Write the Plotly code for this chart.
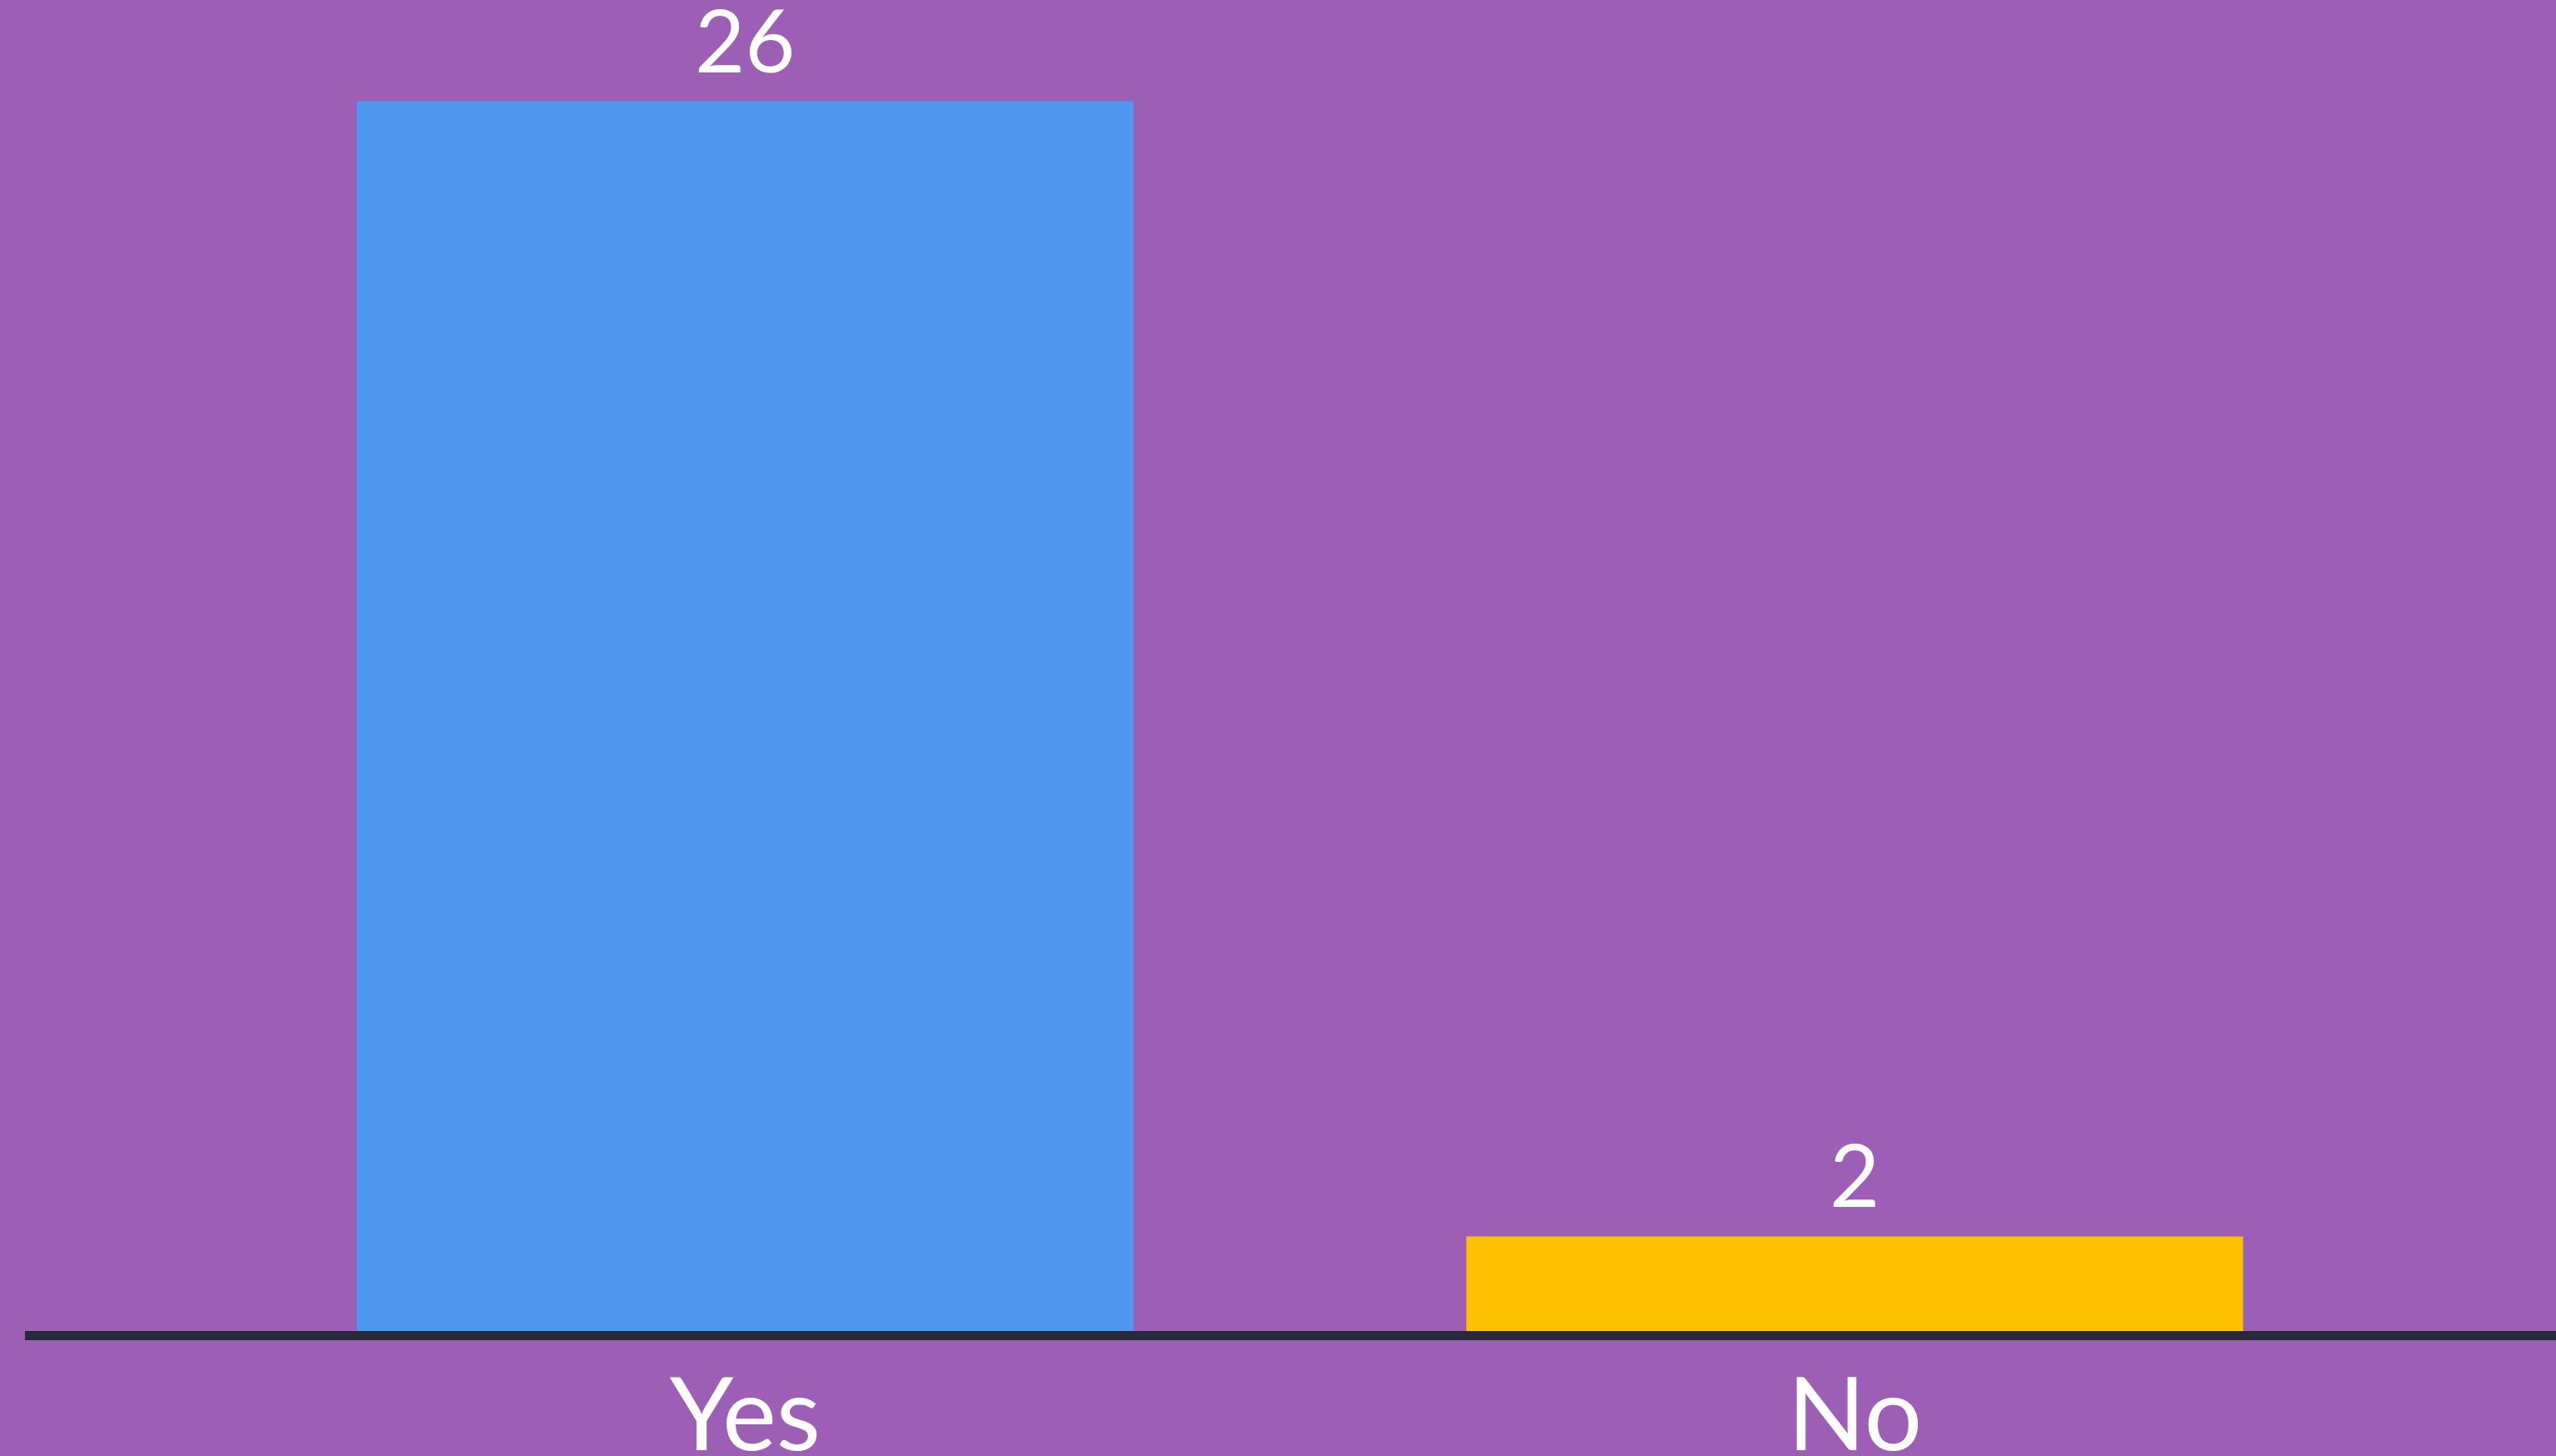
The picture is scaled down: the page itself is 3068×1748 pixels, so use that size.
import plotly.graph_objects as go

categories = ["Yes", "No"]
values = [26, 2]
bar_colors = ["#4f98ef", "#fcc200"]

BG = "#9c5fb5"
FONT = "Lato"

fig = go.Figure()
fig.add_trace(go.Bar(
    x=categories,
    y=values,
    marker=dict(color=bar_colors, line=dict(width=0)),
    width=0.70,
    hoverinfo="skip",
))

for c, v in zip(categories, values):
    fig.add_annotation(
        x=c, y=v, xref="x", yref="y",
        text=str(v), showarrow=False,
        yanchor="bottom", yshift=11,
        font=dict(family=FONT, size=104, color="white"),
    )

fig.update_layout(
    width=3068, height=1748,
    paper_bgcolor=BG, plot_bgcolor=BG,
    margin=dict(l=30, r=0, t=8, b=150, autoexpand=False),
    showlegend=False,
    xaxis=dict(
        range=[-0.649, 1.632],
        showline=True, linecolor="#262a3a", linewidth=11,
        showgrid=False, zeroline=False, ticks="",
        automargin=False, ticklabelstandoff=-16,
        tickfont=dict(family=FONT, size=123, color="white"),
    ),
    yaxis=dict(
        range=[0, 28], visible=False, showgrid=False, zeroline=False,
        automargin=False,
    ),
)

fig.write_html(
    "out.html",
    config={"displayModeBar": False},
    post_script="document.body.style.margin='0';document.body.style.overflow='hidden';document.documentElement.style.overflow='hidden';",
)
